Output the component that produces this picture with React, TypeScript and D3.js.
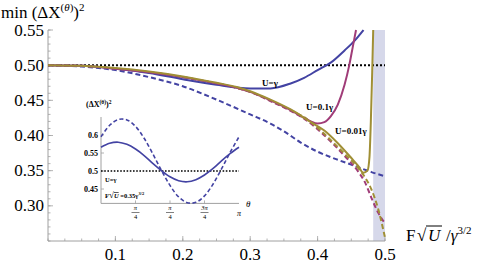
import React from 'react';
import * as d3 from 'd3';

// main plot: F sqrt(U) / gamma^{3/2} vs min (dX)^2
const xBlue = [0, 0.05, 0.1, 0.15, 0.2, 0.25, 0.3, 0.33, 0.36, 0.38, 0.4, 0.42, 0.44, 0.455, 0.468];
const blueSolid = [0.5, 0.499, 0.495, 0.489, 0.48, 0.472, 0.467, 0.467, 0.474, 0.482, 0.493, 0.504, 0.521, 0.535, 0.55];

const xPurple = [0, 0.05, 0.1, 0.15, 0.2, 0.25, 0.28, 0.3, 0.33, 0.36, 0.38, 0.39, 0.4, 0.41, 0.42, 0.43, 0.44, 0.447, 0.452, 0.457];
const purpleSolid = [0.5, 0.499, 0.495, 0.49, 0.483, 0.474, 0.468, 0.462, 0.45, 0.436, 0.425, 0.42, 0.417, 0.419, 0.428, 0.444, 0.472, 0.5, 0.525, 0.55];

const xGold = [0, 0.05, 0.1, 0.15, 0.2, 0.25, 0.28, 0.3, 0.33, 0.36, 0.39, 0.41, 0.43, 0.45, 0.46, 0.468, 0.474, 0.477, 0.479, 0.481, 0.4825];
const goldSolid = [0.5, 0.499, 0.496, 0.491, 0.484, 0.475, 0.469, 0.463, 0.451, 0.437, 0.419, 0.407, 0.389, 0.368, 0.357, 0.347, 0.35, 0.37, 0.42, 0.49, 0.55];

const xDash = [0, 0.05, 0.1, 0.15, 0.2, 0.25, 0.3, 0.33, 0.35, 0.375, 0.4, 0.42, 0.44, 0.46, 0.48, 0.5];
const blueDashed = [0.5, 0.498, 0.493, 0.483, 0.47, 0.451, 0.43, 0.417, 0.406, 0.39, 0.377, 0.369, 0.362, 0.355, 0.348, 0.342];

const xDash2 = [0, 0.05, 0.1, 0.15, 0.2, 0.25, 0.3, 0.33, 0.36, 0.38, 0.4, 0.42, 0.44, 0.46, 0.47, 0.48, 0.49, 0.5];
const purpleDashed = [0.5, 0.499, 0.495, 0.49, 0.483, 0.474, 0.462, 0.449, 0.435, 0.424, 0.409, 0.391, 0.371, 0.349, 0.334, 0.311, 0.29, 0.275];
const goldDashed = [0.5, 0.499, 0.495, 0.49, 0.483, 0.474, 0.462, 0.45, 0.436, 0.426, 0.411, 0.393, 0.374, 0.354, 0.341, 0.323, 0.295, 0.255];

const shadedBand = [0.4825, 0.5];
const yTicks = [0.3, 0.35, 0.4, 0.45, 0.5, 0.55];
const xTicks = [0.1, 0.2, 0.3, 0.4, 0.5];

// inset: theta / pi vs (dX)^2 at U = gamma, F sqrt(U) = 0.35 gamma^{3/2}
const thetaOverPi = [0, 0.0625, 0.125, 0.1875, 0.25, 0.3125, 0.375, 0.4375, 0.5, 0.5625, 0.625, 0.6875, 0.75, 0.8125, 0.875, 0.9375, 1];
const insetSolid = [0.566, 0.577, 0.58, 0.574, 0.561, 0.543, 0.521, 0.501, 0.484, 0.473, 0.47, 0.476, 0.489, 0.507, 0.529, 0.549, 0.566];
const insetDashed = [0.595, 0.627, 0.643, 0.642, 0.624, 0.591, 0.548, 0.502, 0.46, 0.428, 0.412, 0.413, 0.431, 0.464, 0.507, 0.553, 0.595];
const insetYTicks = [0.45, 0.5, 0.55, 0.6];
const insetYLabels = ['0.45', '0.5', '0.55', '0.6'];
const insetXTicks = [0.25, 0.5, 0.75];
const insetXNum = ['π', 'π', '3π'];

const BLUE = '#4343a3';
const PURPLE = '#a03c78';
const GOLD = '#a08f35';
const AXIS = '#a0a0a0';
const FONT = 'Liberation Serif, Times New Roman, DejaVu Serif, serif';

const App: React.FC = () => {
  const x = d3.scaleLinear().domain([0, 0.5]).range([48, 385]);
  const y = d3.scaleLinear().domain([0.25, 0.55]).range([241, 30]);

  const line = (xs: number[], ys: number[]) =>
    d3.line<number>()
      .x((_, i) => x(xs[i]))
      .y(d => y(d))
      .curve(d3.curveMonotoneX)(ys) || '';

  const ix = d3.scaleLinear().domain([0, 1]).range([101, 239]);
  const iy = d3.scaleLinear().domain([0.41, 0.65]).range([203.4, 117]);
  const iline = (ys: number[]) =>
    d3.line<number>()
      .x((_, i) => ix(thetaOverPi[i]))
      .y(d => iy(d))
      .curve(d3.curveCatmullRom)(ys) || '';

  const yMinor = d3.range(0.25, 0.5501, 0.01);
  const xMinor = d3.range(0, 0.5001, 0.025);

  return (
    <svg width={480} height={266} style={{ position: 'absolute', left: 0, top: 0, fontFamily: FONT }}>
      <rect width={480} height={266} fill="white" />

      {/* shaded region */}
      <rect x={x(shadedBand[0])} y={y(0.55)} width={x(shadedBand[1]) - x(shadedBand[0])}
        height={y(0.25) - y(0.55)} fill="#d6d8ea" />

      {/* axes */}
      <line x1={x(0)} x2={x(0)} y1={y(0.25)} y2={y(0.55)} stroke={AXIS} strokeWidth={1} />
      <line x1={x(0)} x2={x(0.5)} y1={y(0.25)} y2={y(0.25)} stroke={AXIS} strokeWidth={1} />
      {yMinor.map((t, i) => (
        <line key={'ym' + i} x1={x(0)} x2={x(0) + 2.5} y1={y(t)} y2={y(t)} stroke={AXIS} strokeWidth={0.8} />
      ))}
      {yTicks.map(t => (
        <g key={'y' + t}>
          <line x1={x(0)} x2={x(0) + 5} y1={y(t)} y2={y(t)} stroke={AXIS} strokeWidth={0.8} />
          <text x={x(0) - 4} y={y(t) + 5.5} fontSize={17} textAnchor="end">{t.toFixed(2)}</text>
        </g>
      ))}
      {xMinor.map((t, i) => (
        <line key={'xm' + i} x1={x(t)} x2={x(t)} y1={y(0.25)} y2={y(0.25) - 2.5} stroke={AXIS} strokeWidth={0.8} />
      ))}
      {xTicks.map(t => (
        <g key={'x' + t}>
          <line x1={x(t)} x2={x(t)} y1={y(0.25)} y2={y(0.25) - 5} stroke={AXIS} strokeWidth={0.8} />
          <text x={x(t)} y={260} fontSize={17} textAnchor="middle">{t.toFixed(1)}</text>
        </g>
      ))}

      {/* reference line */}
      <line x1={x(0)} x2={x(0.5)} y1={y(0.5)} y2={y(0.5)} stroke="black" strokeWidth={2} strokeDasharray="2,2" />

      {/* curves */}
      <path d={line(xDash, blueDashed)} fill="none" stroke={BLUE} strokeWidth={2} strokeDasharray="5,3" />
      <path d={line(xDash2, purpleDashed)} fill="none" stroke={PURPLE} strokeWidth={2} strokeDasharray="5,3" />
      <path d={line(xDash2, goldDashed)} fill="none" stroke={GOLD} strokeWidth={2} strokeDasharray="5,3" />
      <path d={line(xBlue, blueSolid)} fill="none" stroke={BLUE} strokeWidth={2} />
      <path d={line(xPurple, purpleSolid)} fill="none" stroke={PURPLE} strokeWidth={2} />
      <path d={line(xGold, goldSolid)} fill="none" stroke={GOLD} strokeWidth={2} />

      <g fontSize={9} fontWeight="bold">
        <text x={262} y={86}>U=γ</text>
        <text x={306} y={110}>U=0.1γ</text>
        <text x={335} y={134}>U=0.01γ</text>
      </g>

      {/* axis labels */}
      <text x={1} y={18} fontSize={17}>
        min (ΔX<tspan dy={-7} fontSize={11}>(<tspan fontStyle="italic">θ</tspan>)</tspan>
        <tspan dy={7}>)</tspan><tspan dy={-7} fontSize={11}>2</tspan>
      </text>
      <g fontSize={17}>
        <text x={406} y={241}>F</text>
        <text x={417} y={241}>√</text>
        <line x1={426} x2={442} y1={226} y2={226} stroke="black" strokeWidth={1} />
        <text x={428} y={241} fontStyle="italic">U</text>
        <text x={446} y={241}>/<tspan fontStyle="italic">γ</tspan><tspan dy={-7} fontSize={11}>3/2</tspan></text>
      </g>

      {/* inset */}
      <g>
        <line x1={ix(0)} x2={ix(0)} y1={iy(0.41)} y2={117} stroke={AXIS} strokeWidth={1} />
        <line x1={ix(0)} x2={ix(1)} y1={iy(0.41)} y2={iy(0.41)} stroke={AXIS} strokeWidth={1} />
        {insetYTicks.map((t, i) => (
          <g key={'iy' + i}>
            <line x1={ix(0)} x2={ix(0) + 3} y1={iy(t)} y2={iy(t)} stroke={AXIS} strokeWidth={0.8} />
            <text x={ix(0) - 3} y={iy(t) + 3} fontSize={8} fontWeight="bold" textAnchor="end">{insetYLabels[i]}</text>
          </g>
        ))}
        {insetXTicks.map((t, i) => (
          <g key={'ix' + i} fontSize={6.5}>
            <line x1={ix(t)} x2={ix(t)} y1={iy(0.41)} y2={iy(0.41) - 3} stroke={AXIS} strokeWidth={0.8} />
            <text x={ix(t)} y={210} textAnchor="middle" fontStyle="italic">{insetXNum[i]}</text>
            <line x1={ix(t) - 4} x2={ix(t) + 4} y1={212.5} y2={212.5} stroke="black" strokeWidth={0.5} />
            <text x={ix(t)} y={219} textAnchor="middle">4</text>
          </g>
        ))}
        <text x={ix(1)} y={216} fontSize={8} fontStyle="italic" textAnchor="middle">π</text>
        <text x={246} y={207} fontSize={9} fontStyle="italic">θ</text>
        <line x1={ix(0)} x2={ix(1)} y1={iy(0.5)} y2={iy(0.5)} stroke="black" strokeWidth={1.6} strokeDasharray="1.6,1.6" />
        <path d={iline(insetDashed)} fill="none" stroke={BLUE} strokeWidth={1.6} strokeDasharray="4,2.5" />
        <path d={iline(insetSolid)} fill="none" stroke={BLUE} strokeWidth={1.6} />
        <text x={86} y={107} fontSize={8} fontWeight="bold">
          (ΔX<tspan dy={-3} fontSize={5.5}>(θ)</tspan><tspan dy={3}>)</tspan><tspan dy={-3} fontSize={5.5}>2</tspan>
        </text>
        <text x={105} y={182} fontSize={6.5} fontWeight="bold">U=γ</text>
        <text x={105} y={198} fontSize={6.5} fontWeight="bold">
          F<tspan fontSize={9}>√</tspan><tspan fontStyle="italic" textDecoration="overline">U</tspan> =0.35γ<tspan dy={-3} fontSize={4.5}>3/2</tspan>
        </text>
      </g>
    </svg>
  );
};

export default App;
